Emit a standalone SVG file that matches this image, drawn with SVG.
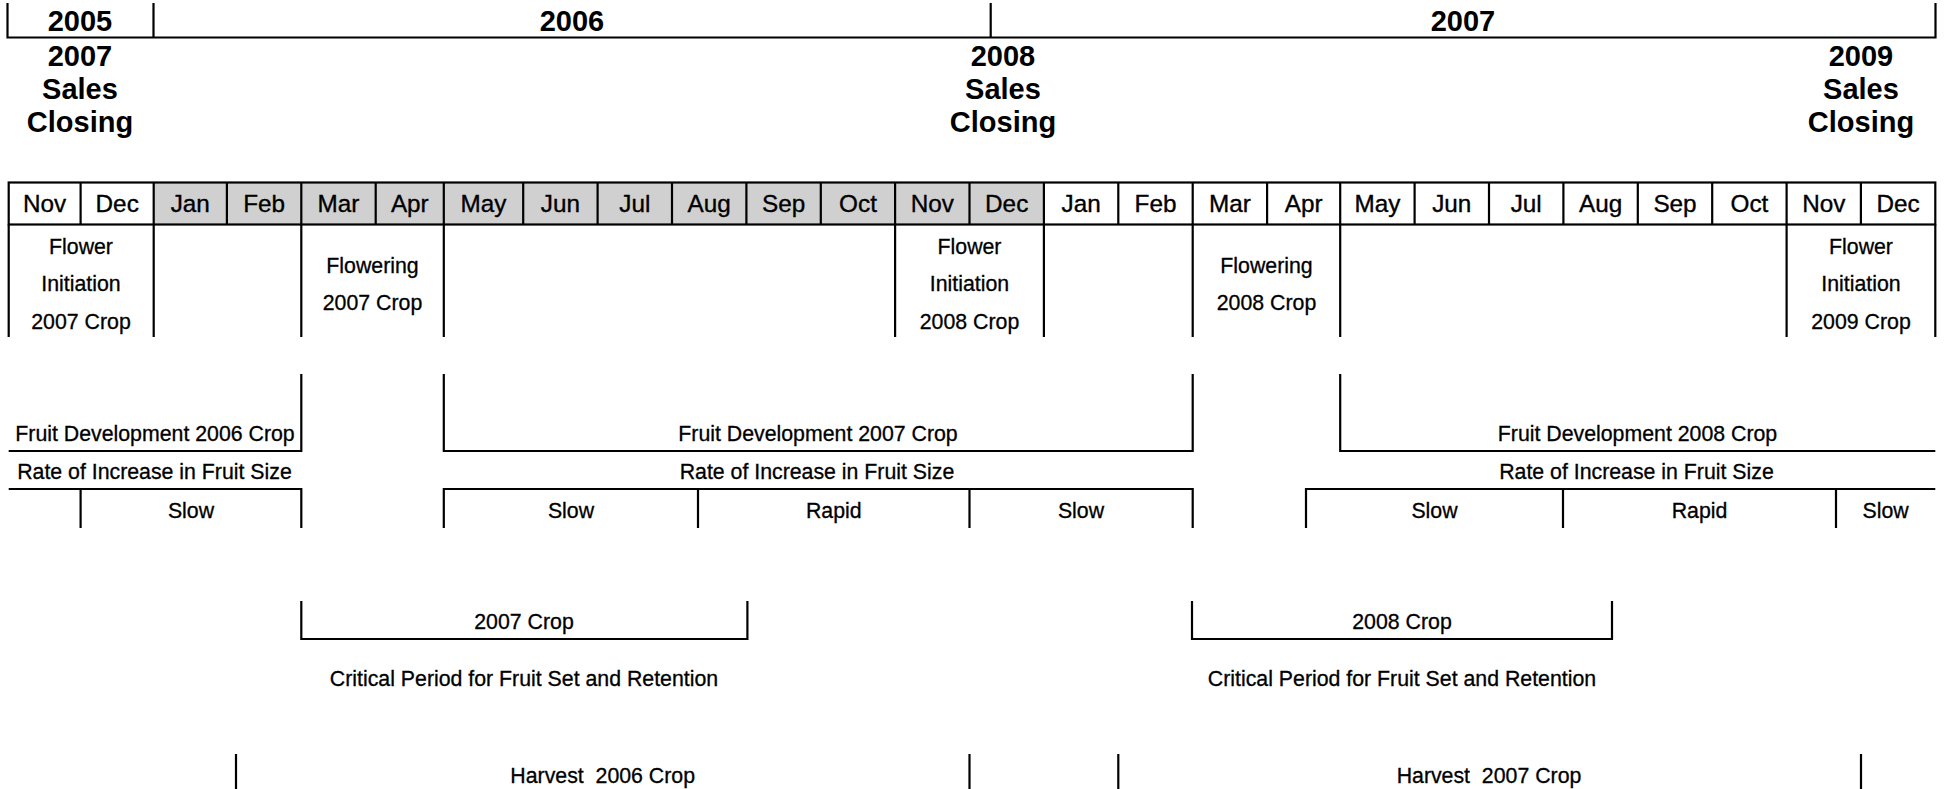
<svg xmlns="http://www.w3.org/2000/svg" width="1944" height="789" viewBox="0 0 1944 789">
<style>
text{font-family:"Liberation Sans",Arial,sans-serif;fill:#000;text-anchor:middle}
.b{font-weight:bold;font-size:29px}
.m{font-size:24.3px;stroke:#000;stroke-width:0.35}
.t{font-size:21.3px;stroke:#000;stroke-width:0.3}
.ln{stroke:#000;stroke-width:2.2;fill:none}
.sh{fill:#d0d0d0}
</style>
<rect width="1944" height="789" fill="#fff"/>
<g id="years">
<path class="ln" d="M7.5,3V37.5H1935.5V3M153.5,3V37.5M990.7,3V37.5"/>
<text class="b" x="80" y="30.5">2005</text>
<text class="b" x="572" y="30.5">2006</text>
<text class="b" x="1463" y="30.5">2007</text>
</g>
<g id="sales2007"><text class="b" x="80" y="66">2007</text><text class="b" x="80" y="99">Sales</text><text class="b" x="80" y="131.5">Closing</text></g>
<g id="sales2008"><text class="b" x="1003" y="66">2008</text><text class="b" x="1003" y="99">Sales</text><text class="b" x="1003" y="131.5">Closing</text></g>
<g id="sales2009"><text class="b" x="1861" y="66">2009</text><text class="b" x="1861" y="99">Sales</text><text class="b" x="1861" y="131.5">Closing</text></g>
<g id="months">
<rect class="sh" x="153.7" y="182.5" width="890.2" height="42"/>
<rect class="ln" x="8.7" y="182.5" width="1926.6" height="42"/>
<path class="ln" d="M80.6,182.5V224.5M153.7,182.5V224.5M226.9,182.5V224.5M301.3,182.5V224.5M375.7,182.5V224.5M443.8,182.5V224.5M523.2,182.5V224.5M597.6,182.5V224.5M672,182.5V224.5M746.4,182.5V224.5M820.8,182.5V224.5M895.1,182.5V224.5M969.5,182.5V224.5M1043.9,182.5V224.5M1118.3,182.5V224.5M1192.7,182.5V224.5M1267.1,182.5V224.5M1340.2,182.5V224.5M1414.6,182.5V224.5M1489,182.5V224.5M1563.4,182.5V224.5M1637.8,182.5V224.5M1712.2,182.5V224.5M1786.6,182.5V224.5M1860.9,182.5V224.5"/>
<text class="m" x="44.6" y="212">Nov</text>
<text class="m" x="117.2" y="212">Dec</text>
<text class="m" x="190.3" y="212">Jan</text>
<text class="m" x="264.1" y="212">Feb</text>
<text class="m" x="338.5" y="212">Mar</text>
<text class="m" x="409.8" y="212">Apr</text>
<text class="m" x="483.5" y="212">May</text>
<text class="m" x="560.4" y="212">Jun</text>
<text class="m" x="634.8" y="212">Jul</text>
<text class="m" x="709.2" y="212">Aug</text>
<text class="m" x="783.6" y="212">Sep</text>
<text class="m" x="858" y="212">Oct</text>
<text class="m" x="932.3" y="212">Nov</text>
<text class="m" x="1006.7" y="212">Dec</text>
<text class="m" x="1081.1" y="212">Jan</text>
<text class="m" x="1155.5" y="212">Feb</text>
<text class="m" x="1229.9" y="212">Mar</text>
<text class="m" x="1303.7" y="212">Apr</text>
<text class="m" x="1377.4" y="212">May</text>
<text class="m" x="1451.8" y="212">Jun</text>
<text class="m" x="1526.2" y="212">Jul</text>
<text class="m" x="1600.6" y="212">Aug</text>
<text class="m" x="1675" y="212">Sep</text>
<text class="m" x="1749.4" y="212">Oct</text>
<text class="m" x="1823.8" y="212">Nov</text>
<text class="m" x="1898.1" y="212">Dec</text>
</g>
<g id="phases">
<path class="ln" d="M8.7,224.5V337M153.7,224.5V337M301.3,224.5V337M443.8,224.5V337M895.1,224.5V337M1043.9,224.5V337M1192.7,224.5V337M1340.2,224.5V337M1786.6,224.5V337M1935.3,224.5V337"/>
</g>
<g id="flower2007"><text class="t" x="81" y="253.5">Flower</text><text class="t" x="81" y="291">Initiation</text><text class="t" x="81" y="328.5">2007 Crop</text></g>
<g id="flowering2007"><text class="t" x="372.5" y="272.5">Flowering</text><text class="t" x="372.5" y="310">2007 Crop</text></g>
<g id="flower2008"><text class="t" x="969.5" y="253.5">Flower</text><text class="t" x="969.5" y="291">Initiation</text><text class="t" x="969.5" y="328.5">2008 Crop</text></g>
<g id="flowering2008"><text class="t" x="1266.5" y="272.5">Flowering</text><text class="t" x="1266.5" y="310">2008 Crop</text></g>
<g id="flower2009"><text class="t" x="1861" y="253.5">Flower</text><text class="t" x="1861" y="291">Initiation</text><text class="t" x="1861" y="328.5">2009 Crop</text></g>
<g id="connectors">
<path class="ln" d="M8.7,451H301.3V374"/>
<path class="ln" d="M443.8,374V451H1192.7V374"/>
<path class="ln" d="M1340.2,374V451H1935.3"/>
<path class="ln" d="M8.7,489H301.3V528M80.6,489V528"/>
<path class="ln" d="M443.8,528V489H1192.7V528M698,489V528M969.5,489V528"/>
<path class="ln" d="M1306,528V489H1935.3M1563,489V528M1836,489V528"/>
<path class="ln" d="M301.3,601V639H747.4V601"/>
<path class="ln" d="M1192,601V639H1612V601"/>
<path class="ln" d="M236,754V789M969.5,754V789M1118.3,754V789M1861,754V789"/>
</g>
<g id="fruitdev">
<text class="t" x="155" y="441">Fruit Development 2006 Crop</text>
<text class="t" x="818" y="441">Fruit Development 2007 Crop</text>
<text class="t" x="1637.5" y="441">Fruit Development 2008 Crop</text>
</g>
<g id="rate">
<text class="t" x="154.5" y="479">Rate of Increase in Fruit Size</text>
<text class="t" x="817" y="479">Rate of Increase in Fruit Size</text>
<text class="t" x="1636.5" y="479">Rate of Increase in Fruit Size</text>
</g>
<g id="speed">
<text class="t" x="191" y="517.5">Slow</text>
<text class="t" x="571" y="517.5">Slow</text>
<text class="t" x="833.8" y="517.5">Rapid</text>
<text class="t" x="1081" y="517.5">Slow</text>
<text class="t" x="1434.5" y="517.5">Slow</text>
<text class="t" x="1699.5" y="517.5">Rapid</text>
<text class="t" x="1885.6" y="517.5">Slow</text>
</g>
<g id="critical2007"><text class="t" x="524" y="629">2007 Crop</text><text class="t" x="524" y="686">Critical Period for Fruit Set and Retention</text></g>
<g id="critical2008"><text class="t" x="1402" y="629">2008 Crop</text><text class="t" x="1402" y="686">Critical Period for Fruit Set and Retention</text></g>
<g id="harvest2006"><text class="t" x="602.7" y="782.5" xml:space="preserve">Harvest  2006 Crop</text></g>
<g id="harvest2007"><text class="t" x="1489" y="782.5" xml:space="preserve">Harvest  2007 Crop</text></g>
</svg>
